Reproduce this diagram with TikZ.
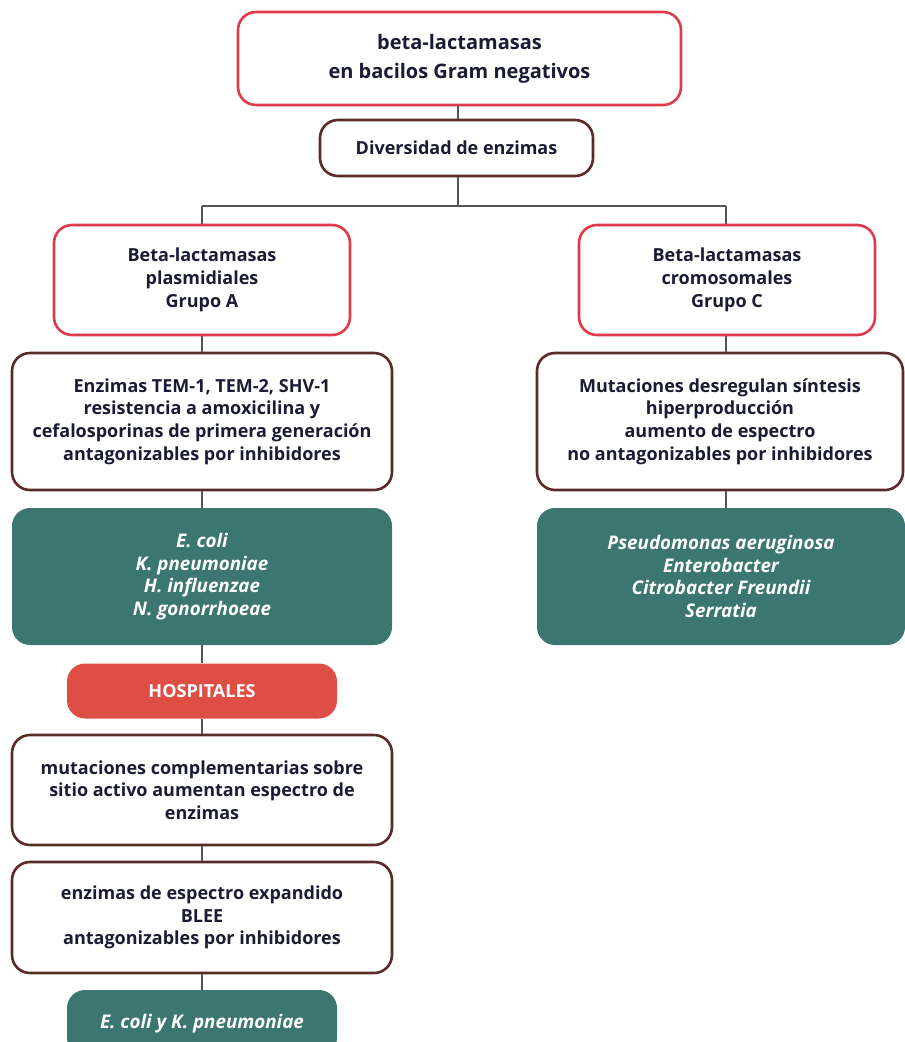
\documentclass[tikz,border=0pt]{standalone}
\usepackage{fontspec}
\setmainfont{Open Sans}
\definecolor{redb}{HTML}{DE3A47}
\definecolor{brownb}{HTML}{5A2B27}
\definecolor{greenf}{HTML}{3C7670}
\definecolor{hospf}{HTML}{DF4E45}
\definecolor{txt}{HTML}{1B1B33}
\definecolor{conn}{HTML}{555555}
\tikzset{
  base/.style={rounded corners=18pt, align=center, inner sep=2pt, font=\fontsize{18}{22.7}\selectfont\bfseries, text=txt},
  redbox/.style={base, draw=redb, line width=2.6pt, fill=white},
  brownbox/.style={base, draw=brownb, line width=2.6pt, fill=white},
  greenbox/.style={base, fill=greenf, text=white, font=\fontsize{18.8}{22.7}\selectfont\bfseries\itshape},
  hospbox/.style={base, fill=hospf, text=white},
  link/.style={draw=conn, line width=1.3pt}
}
\begin{document}
\begin{tikzpicture}[x=1pt,y=-1pt]
\useasboundingbox (0,0) rectangle (905,1042);
\clip (0,0) rectangle (905,1042);
\node[redbox, minimum width=443pt, minimum height=93pt, font=\fontsize{20}{29}\selectfont\bfseries] (top) at (459.5,58.5) {beta-lactamasas\\en bacilos Gram negativos};
\node[brownbox, minimum width=273pt, minimum height=56pt] (div) at (456.5,148) {Diversidad de enzimas};
\node[redbox, minimum width=296pt, minimum height=110pt] (pA) at (202,280) {Beta-lactamasas\\plasmidiales\\Grupo A};
\node[redbox, minimum width=296pt, minimum height=110pt] (pC) at (727,280) {Beta-lactamasas\\cromosomales\\Grupo C};
\node[brownbox, minimum width=380pt, minimum height=137pt] (enzA) at (202,421.5) {Enzimas TEM-1, TEM-2, SHV-1\\resistencia a amoxicilina y\\cefalosporinas de primera generación\\antagonizables por inhibidores};
\node[brownbox, minimum width=366pt, minimum height=137pt] (mutC) at (720,421.5) {Mutaciones desregulan síntesis\\hiperproducción\\aumento de espectro\\no antagonizables por inhibidores};
\node[greenbox, minimum width=380pt, minimum height=137pt] (grA) at (202,576.5) {E. coli\\K. pneumoniae\\H. influenzae\\N. gonorrhoeae};
\node[greenbox, minimum width=368pt, minimum height=137pt] (grC) at (721,576.5) {Pseudomonas aeruginosa\\Enterobacter\\Citrobacter Freundii\\Serratia};
\node[hospbox, minimum width=270pt, minimum height=55pt] (hosp) at (202,691) {HOSPITALES};
\node[brownbox, minimum width=380pt, minimum height=110pt] (mut) at (202,790) {mutaciones complementarias sobre\\sitio activo aumentan espectro de\\enzimas};
\node[brownbox, minimum width=380pt, minimum height=111pt] (blee) at (202,917.5) {enzimas de espectro expandido\\BLEE\\antagonizables por inhibidores};
\node[greenbox, minimum width=270pt, minimum height=66pt, text depth=0pt] (eco) at (202,1023) {\raisebox{4pt}{E. coli y K. pneumoniae}};
\coordinate (split) at (458,206);
\coordinate (lA) at (202,206);
\coordinate (lC) at (726,206);
\draw[link] (top.south -| split) -- (div.north -| split);
\draw[link] (div.south -| split) -- (split);
\draw[link] (lA) -- (lC);
\draw[link] (lA) -- (pA.north);
\draw[link] (lC) -- (pC.north -| lC);
\draw[link] (pA.south) -- (enzA.north);
\draw[link] (pC.south -| lC) -- (mutC.north -| lC);
\draw[link] (enzA.south) -- (grA.north);
\draw[link] (mutC.south -| lC) -- (grC.north -| lC);
\draw[link] (grA.south) -- (hosp.north);
\draw[link] (hosp.south) -- (mut.north);
\draw[link] (mut.south) -- (blee.north);
\draw[link] (blee.south) -- (eco.north);
\end{tikzpicture}
\end{document}
